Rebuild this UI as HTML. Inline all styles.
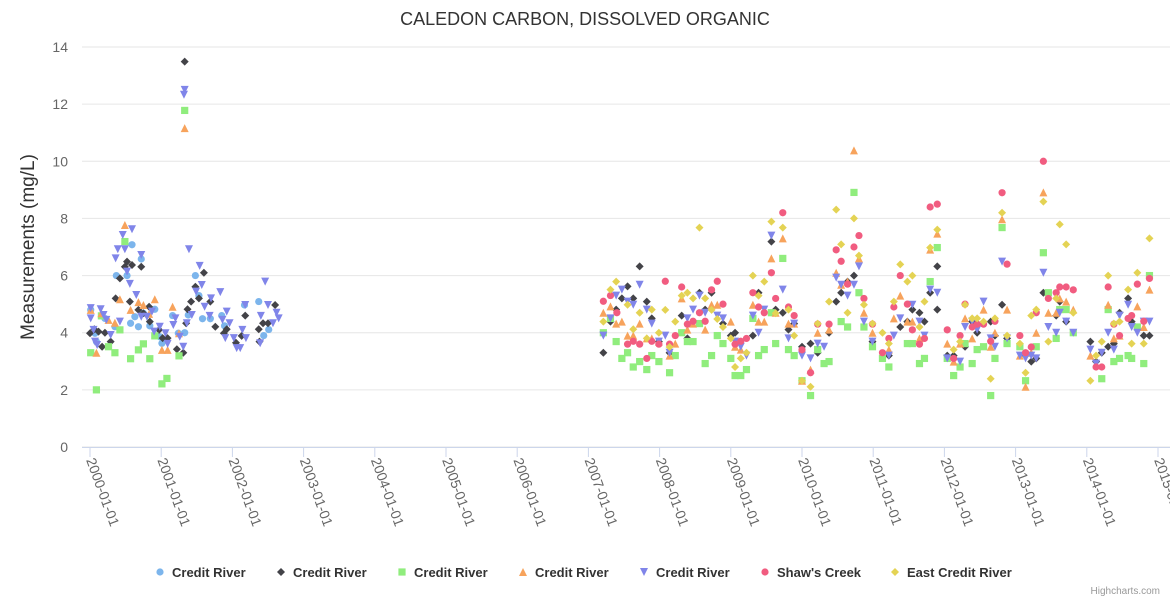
<!DOCTYPE html>
<html><head><meta charset="utf-8"><style>
body{margin:0;background:#fff;}
svg{display:block;font-family:"Liberation Sans",sans-serif;}
</style></head><body>
<svg id="chart" width="1170" height="600" viewBox="0 0 1170 600">
<text x="585" y="25" text-anchor="middle" font-size="18" fill="#333">CALEDON CARBON, DISSOLVED ORGANIC</text>
<text transform="translate(34,247) rotate(-90)" text-anchor="middle" font-size="19" fill="#333">Measurements (mg/L)</text>
<g id="grid"></g>
<g id="xaxis"></g>
<g id="marks"></g>
<g id="legend"></g>
<text x="1160" y="594" text-anchor="end" font-size="10" fill="#999">Highcharts.com</text>
</svg>
<script>
const yTicks=[0,2,4,6,8,10,12,14];
const xTickYears=[2000,2001,2002,2003,2004,2005,2006,2007,2008,2009,2010,2011,2012,2013,2014,2015];
const seriesNames=["Credit River","Credit River","Credit River","Credit River","Credit River","Shaw's Creek","East Credit River"];
const seriesColors=["#7cb5ec","#434348","#90ed7d","#f7a35c","#8085e9","#f15c80","#e4d354"];
const seriesSymbols=["circle","diamond","square","triangle","triangle-down","circle","diamond"];
// data: [year offset from 2000, value]
const s1=[[0.01,4.8],[0.07,3.98],[0.09,3.69],[0.21,4.5],[0.37,6.0],[0.35,4.21],[0.52,6.0],[0.59,7.08],[0.72,6.58],[0.57,4.33],[0.68,4.21],[0.63,4.56],[0.75,4.68],[0.84,4.24],[0.91,4.82],[0.98,3.86],[1.01,3.63],[1.16,4.6],[1.24,3.98],[1.33,4.0],[1.38,4.62],[1.48,6.0],[1.53,5.3],[1.58,4.49],[1.69,4.49],[1.85,4.6],[1.89,4.24],[2.17,4.97],[2.37,5.09],[2.44,3.9],[2.51,4.11]];
const s2=[[0.0,3.98],[0.06,4.12],[0.12,4.04],[0.17,3.51],[0.21,4.0],[0.29,3.69],[0.36,5.2],[0.42,5.9],[0.49,6.31],[0.52,6.49],[0.59,6.37],[0.72,6.31],[0.56,5.09],[0.68,4.8],[0.75,4.68],[0.83,4.91],[0.84,4.39],[0.97,4.1],[1.02,3.81],[1.09,3.81],[1.22,3.42],[1.31,3.3],[1.33,13.49],[1.35,4.33],[1.37,4.82],[1.42,5.09],[1.48,5.61],[1.53,5.2],[1.6,6.1],[1.69,5.09],[1.76,4.21],[1.88,3.98],[1.92,4.12],[2.05,3.65],[2.13,3.89],[2.18,4.6],[2.38,3.69],[2.37,4.12],[2.43,4.33],[2.5,4.33],[2.6,4.97],
[7.21,3.3],[7.31,4.39],[7.39,4.81],[7.47,5.2],[7.55,5.62],[7.63,5.2],[7.72,6.32],[7.82,5.09],[7.89,4.5],[7.99,3.69],[8.14,3.3],[8.31,4.6],[8.39,3.8],[8.56,5.4],[8.64,4.81],[8.73,5.4],[8.89,4.32],[9.0,3.9],[9.06,4.0],[9.31,3.9],[9.39,5.4],[9.57,7.19],[9.63,4.81],[9.73,4.7],[9.81,4.11],[9.89,4.32],[10.0,3.51],[10.12,3.62],[10.22,3.3],[10.38,4.0],[10.48,5.09],[10.55,5.4],[10.64,5.79],[10.73,6.0],[10.99,3.69],[11.22,3.2],[11.38,4.2],[11.48,4.39],[11.55,4.81],[11.65,4.7],[11.72,4.39],[11.8,5.4],[11.9,6.32],[11.9,4.81],[12.04,3.2],[12.13,3.2],[12.29,3.51],[12.39,4.39],[12.46,4.0],[12.65,4.39],[12.71,3.9],[12.81,4.98],[12.88,3.8],[13.14,3.2],[13.22,2.99],[13.29,3.1],[13.39,5.4],[13.57,4.6],[13.62,5.09],[13.71,4.39],[14.05,3.69],[14.13,2.99],[14.21,3.3],[14.3,3.51],[14.38,3.62],[14.46,4.7],[14.58,5.2],[14.63,4.39],[14.8,3.9],[14.88,3.9]];
const s3=[[0.01,3.3],[0.09,2.0],[0.16,4.59],[0.26,3.51],[0.35,3.3],[0.42,4.1],[0.49,7.19],[0.57,3.09],[0.68,3.4],[0.75,3.61],[0.84,3.09],[0.91,3.89],[1.01,2.21],[1.08,2.4],[1.25,3.19],[1.33,11.78],
[7.21,4.0],[7.31,4.5],[7.39,3.69],[7.47,3.1],[7.55,3.3],[7.63,2.8],[7.72,2.99],[7.82,2.71],[7.89,3.2],[7.99,2.99],[8.14,2.6],[8.22,3.2],[8.31,4.0],[8.39,3.69],[8.47,3.69],[8.56,4.32],[8.64,2.92],[8.73,3.2],[8.81,3.9],[8.89,3.62],[9.0,3.1],[9.06,2.5],[9.14,2.5],[9.22,2.71],[9.31,4.5],[9.39,3.2],[9.47,3.41],[9.57,4.7],[9.63,3.62],[9.73,6.6],[9.81,3.41],[9.89,3.2],[10.0,2.32],[10.12,1.8],[10.22,3.41],[10.31,2.92],[10.38,2.99],[10.55,4.39],[10.64,4.2],[10.73,8.91],[10.8,5.4],[10.87,4.2],[10.99,3.51],[11.13,3.1],[11.22,2.8],[11.48,3.62],[11.55,3.62],[11.65,2.92],[11.72,3.1],[11.8,5.79],[11.9,6.98],[12.04,3.1],[12.13,2.5],[12.22,2.8],[12.29,3.62],[12.39,2.92],[12.46,3.41],[12.55,3.51],[12.65,1.8],[12.71,3.1],[12.81,7.68],[12.88,3.62],[13.06,3.51],[13.14,2.32],[13.29,3.51],[13.39,6.8],[13.46,5.4],[13.57,3.8],[13.62,4.81],[13.71,4.81],[13.81,4.0],[14.21,2.39],[14.3,4.81],[14.38,2.99],[14.46,3.1],[14.58,3.2],[14.63,3.1],[14.71,4.2],[14.8,2.92],[14.88,6.0]];
const s4=[[0.01,4.8],[0.09,3.3],[0.16,4.68],[0.26,4.45],[0.35,4.35],[0.42,5.17],[0.49,7.77],[0.57,4.8],[0.68,5.07],[0.75,4.97],[0.83,4.66],[0.91,5.17],[1.01,3.4],[1.09,3.4],[1.16,4.91],[1.25,3.98],[1.33,11.16],
[7.21,4.7],[7.31,4.92],[7.39,4.32],[7.47,4.39],[7.55,3.9],[7.63,3.9],[7.72,4.32],[7.82,3.8],[7.89,3.8],[7.99,3.69],[8.14,3.2],[8.22,3.62],[8.31,5.2],[8.39,4.11],[8.47,4.32],[8.64,4.11],[8.73,4.98],[8.81,4.98],[9.0,4.39],[9.06,3.51],[9.14,3.41],[9.31,4.98],[9.39,4.39],[9.47,4.39],[9.57,6.6],[9.63,4.7],[9.73,7.3],[9.81,4.32],[9.89,4.32],[10.0,2.32],[10.12,2.71],[10.22,4.0],[10.38,4.11],[10.48,6.1],[10.55,5.68],[10.64,5.79],[10.73,10.38],[10.8,6.6],[10.87,4.7],[10.99,4.0],[11.22,3.41],[11.29,4.5],[11.38,5.3],[11.48,4.39],[11.55,4.39],[11.65,3.8],[11.8,6.91],[11.9,7.47],[12.04,3.62],[12.13,2.99],[12.22,3.62],[12.29,4.5],[12.39,3.8],[12.55,4.81],[12.65,3.51],[12.71,4.0],[12.81,7.97],[12.88,4.81],[13.06,3.2],[13.14,2.11],[13.22,3.3],[13.29,4.0],[13.39,8.91],[13.46,4.7],[13.57,4.7],[13.62,5.2],[13.71,5.09],[13.81,4.81],[14.05,3.2],[14.3,4.98],[14.38,3.8],[14.46,3.9],[14.71,4.92],[14.8,4.2],[14.88,5.51]];
const s5=[[0.01,4.86],[0.01,4.5],[0.05,4.1],[0.07,3.69],[0.1,3.57],[0.15,4.82],[0.19,4.62],[0.23,4.45],[0.29,3.92],[0.36,6.6],[0.39,6.92],[0.42,4.39],[0.46,7.42],[0.49,6.92],[0.52,6.14],[0.56,5.71],[0.59,7.62],[0.65,5.32],[0.72,6.72],[0.72,4.56],[0.8,4.56],[0.87,4.74],[0.9,4.04],[0.98,4.21],[1.06,3.98],[1.09,3.61],[1.17,4.27],[1.2,4.5],[1.26,3.86],[1.31,3.51],[1.33,12.5],[1.32,12.33],[1.36,4.33],[1.39,6.92],[1.43,4.62],[1.49,5.44],[1.54,6.34],[1.57,5.67],[1.61,4.91],[1.7,5.2],[1.68,4.59],[1.83,5.42],[1.86,4.45],[1.92,4.74],[1.96,4.33],[1.9,3.81],[2.02,3.81],[2.06,3.46],[2.11,3.46],[2.14,4.1],[2.18,4.97],[2.19,3.81],[2.39,3.63],[2.46,5.79],[2.4,4.59],[2.5,4.97],[2.57,4.33],[2.62,4.7],[2.65,4.5],
[7.21,3.9],[7.31,4.5],[7.39,5.3],[7.47,5.51],[7.55,5.09],[7.63,4.98],[7.72,5.68],[7.82,4.81],[7.89,4.32],[7.99,3.69],[8.08,3.9],[8.14,3.3],[8.39,4.5],[8.47,4.81],[8.56,5.3],[8.64,4.7],[8.81,4.6],[8.89,4.5],[9.06,3.69],[9.14,3.51],[9.22,3.2],[9.31,4.6],[9.39,4.0],[9.47,4.81],[9.57,7.4],[9.73,5.51],[9.81,3.8],[9.89,4.32],[10.0,3.2],[10.12,3.1],[10.22,3.62],[10.31,3.51],[10.48,5.93],[10.55,5.68],[10.64,5.3],[10.73,5.68],[10.8,6.32],[10.87,4.39],[10.99,3.69],[11.22,3.2],[11.29,3.9],[11.38,4.5],[11.55,4.98],[11.65,4.39],[11.72,3.9],[11.8,5.51],[11.9,5.4],[12.04,3.1],[12.22,2.99],[12.29,4.2],[12.39,4.39],[12.46,4.11],[12.55,5.09],[12.65,3.8],[12.71,3.51],[12.81,6.49],[12.88,3.8],[13.06,3.2],[13.14,3.1],[13.22,3.2],[13.29,3.1],[13.39,6.1],[13.46,4.2],[13.57,4.0],[13.62,4.7],[13.71,4.39],[13.81,4.0],[14.05,3.41],[14.13,2.92],[14.21,3.3],[14.3,4.0],[14.38,3.41],[14.46,4.6],[14.58,4.98],[14.63,4.2],[14.71,4.0],[14.8,4.39],[14.88,4.39]];
const s6=[[7.21,5.1],[7.31,5.3],[7.4,4.7],[7.55,3.6],[7.63,3.7],[7.72,3.6],[7.82,3.1],[7.89,3.7],[7.99,3.6],[8.08,5.8],[8.14,3.6],[8.22,3.9],[8.31,5.6],[8.39,4.3],[8.47,4.4],[8.56,4.7],[8.64,4.4],[8.73,5.5],[8.81,5.8],[8.89,5.0],[9.06,3.6],[9.14,3.7],[9.22,3.8],[9.31,5.4],[9.39,4.9],[9.47,4.7],[9.57,6.1],[9.63,5.2],[9.73,8.2],[9.81,4.9],[9.89,4.6],[10.0,3.4],[10.12,2.6],[10.22,4.3],[10.38,4.3],[10.48,6.9],[10.55,6.5],[10.64,5.7],[10.73,7.0],[10.8,7.4],[10.87,5.2],[10.99,4.3],[11.13,3.3],[11.22,3.8],[11.29,4.9],[11.38,6.0],[11.48,5.0],[11.55,4.1],[11.65,3.6],[11.72,3.8],[11.8,8.4],[11.9,8.5],[12.04,4.1],[12.13,3.1],[12.22,3.9],[12.29,5.0],[12.39,4.2],[12.46,4.3],[12.55,4.3],[12.65,3.7],[12.71,4.4],[12.81,8.9],[12.88,6.4],[13.06,3.9],[13.14,3.3],[13.22,3.5],[13.29,4.7],[13.39,10.0],[13.46,5.2],[13.57,5.4],[13.62,5.6],[13.71,5.6],[13.81,5.5],[14.13,2.8],[14.21,2.8],[14.3,5.6],[14.38,4.3],[14.46,3.9],[14.58,4.5],[14.63,4.6],[14.71,5.7],[14.8,4.4],[14.88,5.9]];
const s7=[[7.21,4.39],[7.31,5.51],[7.39,5.79],[7.55,4.98],[7.63,4.12],[7.72,4.7],[7.82,3.8],[7.89,4.81],[7.99,4.0],[8.08,4.8],[8.14,3.5],[8.22,4.39],[8.31,5.3],[8.39,5.4],[8.47,5.2],[8.56,7.68],[8.64,5.2],[8.73,4.8],[8.81,4.48],[8.89,4.2],[9.0,3.8],[9.06,2.8],[9.14,3.1],[9.22,3.3],[9.31,6.0],[9.39,5.3],[9.47,5.79],[9.57,7.89],[9.63,4.68],[9.73,7.68],[9.81,4.81],[9.89,3.9],[10.0,2.32],[10.12,2.11],[10.22,4.32],[10.38,5.09],[10.48,8.31],[10.55,7.09],[10.64,4.7],[10.73,8.0],[10.8,6.7],[10.87,4.98],[10.99,4.32],[11.13,4.0],[11.22,3.62],[11.29,5.09],[11.38,6.39],[11.48,5.79],[11.55,6.0],[11.65,4.2],[11.72,5.09],[11.8,6.98],[11.9,7.61],[12.13,3.41],[12.22,3.69],[12.29,4.98],[12.39,4.5],[12.46,4.5],[12.55,4.39],[12.65,2.39],[12.71,4.5],[12.81,8.2],[12.88,3.9],[13.06,3.62],[13.14,2.6],[13.22,4.6],[13.29,4.81],[13.39,8.59],[13.46,3.69],[13.57,5.2],[13.62,7.79],[13.71,7.09],[13.81,4.7],[14.05,2.32],[14.13,3.2],[14.21,3.69],[14.3,6.0],[14.38,4.32],[14.46,4.39],[14.58,5.51],[14.63,3.62],[14.71,6.1],[14.8,3.62],[14.88,7.3]];
const allSeries=[s1,s2,s3,s4,s5,s6,s7];

const NS="http://www.w3.org/2000/svg";
const plotL=82,plotR=1170,plotB=447,plotT=47;
function xPos(yr){return 90+(yr-2000)*71.2;}
function yPos(v){return plotB-(v/14)*(plotB-plotT);}
function el(tag,attrs,parent){const e=document.createElementNS(NS,tag);for(const k in attrs)e.setAttribute(k,attrs[k]);parent.appendChild(e);return e;}
const grid=document.getElementById('grid');
yTicks.forEach(t=>{
  const l=el('line',{x1:plotL,x2:plotR,y1:yPos(t),y2:yPos(t),stroke:'#e6e6e6','stroke-width':1},grid);
  
  
  const tx=el('text',{x:68,y:yPos(t)+5,'text-anchor':'end','font-size':14,fill:'#666'},grid);
  tx.textContent=t;
  
  
});
const xa=document.getElementById('xaxis');
const axl=el('line',{x1:plotL,x2:plotR,y1:plotB+0.5,y2:plotB+0.5,stroke:'#ccd6eb'},xa);


xTickYears.forEach(yr=>{
  const x=xPos(yr);
  const tk=el('line',{x1:x,x2:x,y1:plotB,y2:plotB+10,stroke:'#ccd6eb'},xa);
  
  
  const tx=el('text',{transform:`translate(${x-4},${plotB+13}) rotate(70)`,'font-size':14,fill:'#666'},xa);
  tx.textContent=yr+'-01-01';
  
  
});
function marker(sym,x,y,color,parent){
  let e;
  if(sym==='circle')e=el('circle',{cx:x,cy:y,r:3.6,fill:color},parent);
  else if(sym==='square')e=el('rect',{x:x-3.6,y:y-3.6,width:7.2,height:7.2,fill:color},parent);
  else if(sym==='diamond')e=el('path',{d:`M${x},${y-4}L${x+4},${y}L${x},${y+4}L${x-4},${y}Z`,fill:color},parent);
  else if(sym==='triangle')e=el('path',{d:`M${x},${y-4}L${x+4},${y+4}L${x-4},${y+4}Z`,fill:color},parent);
  else e=el('path',{d:`M${x-4},${y-4}L${x+4},${y-4}L${x},${y+4}Z`,fill:color},parent);
  return e;
}
const marks=document.getElementById('marks');
allSeries.forEach((s,i)=>{
  const g=el('g',{},marks);
  
  
  s.forEach(p=>{
    const m=marker(seriesSymbols[i],xPos(2000+p[0]),yPos(p[1]),seriesColors[i],g);
    
    
  });
});
const legend=document.getElementById('legend');
const legX=[160,281,402,523,644,765,895];
seriesNames.forEach((n,i)=>{
  const g=el('g',{},legend);
  
  
  marker(seriesSymbols[i],legX[i],572,seriesColors[i],g);
  const t=el('text',{x:legX[i]+12,y:577,'font-size':13,'font-weight':'bold',fill:'#333'},g);
  t.textContent=n;
});
</script>
</body></html>
